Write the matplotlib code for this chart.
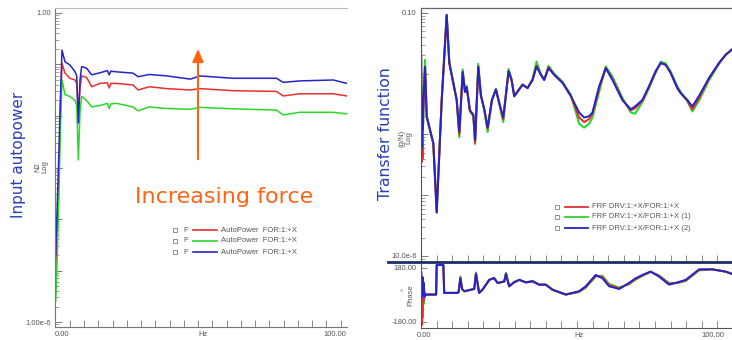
import numpy as np
import matplotlib
matplotlib.use('Agg')
import matplotlib.pyplot as plt
from matplotlib.ticker import FixedLocator, FixedFormatter, NullFormatter
from matplotlib.lines import Line2D
from matplotlib.patches import Rectangle, FancyArrowPatch

# ---------------- data: input autopower (left) ----------------
hz_ap = [-2.3, -1.8, -1.2, -0.6, 0.0, 1.1, 2.9, 4.8, 5.4, 6.0, 6.6, 7.2, 9.0, 10.9, 13.9,
         16.6, 17.3, 17.9, 20.0, 26.0, 27.9, 32.0, 38.4, 47.0, 50.5, 62.7, 78.6, 81.0,
         87.0, 99.4, 104.3]
ap_blue = [2e-5, 1.5e-4, 1.5e-3, 0.02, 0.19, 0.113, 0.098, 0.072, 0.06, 0.0073, 0.05, 0.091,
           0.085, 0.063, 0.069, 0.076, 0.063, 0.074, 0.072, 0.068, 0.058, 0.064, 0.060, 0.052,
           0.060, 0.054, 0.054, 0.045, 0.048, 0.050, 0.043]
ap_red = [8e-6, 6e-5, 6e-4, 0.012, 0.105, 0.068, 0.054, 0.050, 0.042, 0.010, 0.035, 0.060,
          0.056, 0.037, 0.043, 0.044, 0.035, 0.043, 0.043, 0.040, 0.032, 0.037, 0.034, 0.032,
          0.034, 0.031, 0.030, 0.0245, 0.027, 0.027, 0.0245]
ap_green = [2.5e-6, 1.5e-5, 2e-4, 5e-3, 0.05, 0.026, 0.024, 0.020, 0.016, 0.0014, 0.012, 0.024,
            0.020, 0.015, 0.016, 0.0176, 0.014, 0.0172, 0.0176, 0.015, 0.0126, 0.015, 0.014,
            0.0135, 0.0147, 0.0138, 0.013, 0.0105, 0.0118, 0.0118, 0.011]

# ---------------- data: transfer function magnitude (right, top) ----------------
hz_frf = [-1.0, -0.85, -0.7, -0.5, -0.3, 0.35, 0.94, 2.08, 3.22, 3.81, 4.40, 4.95, 6.13, 7.86,
          8.76, 10.15, 11.33, 12.23, 13.4, 14.2, 14.8, 15.9, 17.1, 17.7, 18.8, 19.72, 20.88,
          22.03, 23.53, 24.91, 26.07, 27.45, 29.30, 30.33, 31.26, 32.41, 34.14, 35.87, 37.60,
          38.99, 40.48, 41.64, 43.14, 45.10, 47.98, 50.87, 53.75, 55.48, 57.21, 58.36, 60.67,
          62.98, 65.28, 68.74, 71.63, 73.13, 75.66, 77.97, 80.28, 82.01, 83.74, 85.47, 87.77,
          88.93, 91.24, 92.97, 95.27, 98.73, 102.19, 104.5, 106.57]
frf_blue = [0.024, 6e-4, 4e-3, 1.2e-3, 3e-3, 0.013, 1.94e-3, 1.18e-3, 7.2e-4, 2.0e-4, 5.2e-5,
            2.0e-4, 3.7e-3, 0.093, 0.015, 7.0e-3, 3.7e-3, 1.1e-3, 0.0107, 5.0e-3, 6.0e-3,
            2.5e-3, 2.1e-3, 8.1e-4, 0.013, 4.3e-3, 2.6e-3, 1.3e-3, 3.7e-3, 5.5e-3, 3.3e-3,
            1.9e-3, 0.011, 7.9e-3, 4.3e-3, 5.1e-3, 6.6e-3, 5.8e-3, 7.9e-3, 0.0132, 9.6e-3,
            7.9e-3, 0.0124, 9.6e-3, 7.1e-3, 4.3e-3, 2.3e-3, 1.9e-3, 2.0e-3, 2.3e-3, 6.2e-3,
            0.0124, 7.9e-3, 3.7e-3, 2.6e-3, 2.9e-3, 3.7e-3, 6.2e-3, 0.011, 0.015, 0.014,
            0.0103, 5.8e-3, 4.8e-3, 3.7e-3, 2.9e-3, 4.3e-3, 8.5e-3, 0.015, 0.0205, 0.0247]
frf_red = [0.020, 3.5e-4, 2e-3, 4e-4, 2e-3, 0.013, 1.94e-3, 1.18e-3, 7.2e-4, 2.0e-4, 5.2e-5,
           2.0e-4, 3.7e-3, 0.093, 0.015, 7.0e-3, 3.7e-3, 1.0e-3, 0.0107, 5.0e-3, 6.0e-3,
           2.5e-3, 2.1e-3, 7.3e-4, 0.013, 4.3e-3, 2.6e-3, 1.25e-3, 3.7e-3, 5.5e-3, 3.3e-3,
           1.8e-3, 0.011, 7.9e-3, 4.3e-3, 5.1e-3, 6.6e-3, 5.8e-3, 7.9e-3, 0.0135, 9.6e-3,
           7.9e-3, 0.0127, 9.6e-3, 7.1e-3, 4.3e-3, 1.9e-3, 1.6e-3, 1.8e-3, 2.2e-3, 5.8e-3,
           0.0124, 8.2e-3, 3.7e-3, 2.5e-3, 2.7e-3, 3.6e-3, 6.2e-3, 0.011, 0.015, 0.014,
           0.0103, 5.8e-3, 4.8e-3, 3.6e-3, 2.6e-3, 4.0e-3, 8.3e-3, 0.015, 0.0205, 0.0247]
frf_green = [0.020, 3e-3, 8e-4, 6e-3, 1.5e-3, 0.0169, 2.1e-3, 1.2e-3, 7.0e-4, 1.9e-4, 5.5e-5,
             2.2e-4, 3.5e-3, 0.090, 0.016, 7.2e-3, 3.6e-3, 9.0e-4, 0.0118, 5.2e-3, 6.3e-3,
             2.4e-3, 2.0e-3, 7.0e-4, 0.0145, 4.6e-3, 2.5e-3, 1.1e-3, 3.6e-3, 5.7e-3, 3.2e-3,
             1.6e-3, 0.0120, 8.2e-3, 4.2e-3, 5.0e-3, 6.7e-3, 5.8e-3, 8.2e-3, 0.0158, 1.0e-2,
             8.0e-3, 0.0135, 1.0e-2, 7.4e-3, 4.5e-3, 1.5e-3, 1.3e-3, 1.5e-3, 1.9e-3, 5.0e-3,
             0.0132, 9.0e-3, 4.0e-3, 2.3e-3, 2.2e-3, 3.4e-3, 5.8e-3, 0.0105, 0.0158, 0.0148,
             0.0108, 6.2e-3, 5.0e-3, 3.5e-3, 2.4e-3, 3.6e-3, 7.8e-3, 0.0145, 0.0205, 0.0250]

# ---------------- data: transfer function phase (right, bottom) ----------------
hz_ph = [-0.9, -0.7, -0.5, -0.3, -0.1, 0.2, 0.7, 4.2, 4.4, 6.7, 7.0, 11.6, 12.0, 12.6, 13.2,
         14.0, 17.4, 18.0, 19.1, 20.3, 22.6, 24.3, 25.5, 27.8, 28.4, 29.5, 31.2, 33.0, 35.3,
         37.6, 39.9, 42.2, 44.5, 49.1, 53.7, 56.0, 59.5, 61.8, 64.1, 67.6, 71.0, 73.4, 75.7,
         78.5, 81.4, 84.9, 87.8, 90.7, 95.3, 99.9, 104.5, 106.6]
ph_blue = [150, -20, 120, 0, 80, -10, 3, 3, 200, 200, 14, 14, 20, 112, 40, 25, 40, 141, 14,
           36, 101, 112, 80, 90, 141, 58, 84, 101, 84, 91, 69, 69, 36, 3, 25, 58, 134, 112,
           58, 40, 80, 112, 134, 156, 123, 69, 84, 101, 171, 171, 156, 141]
ph_red = [30, -200, -120, 90, -40, 0, 3, 3, 200, 200, 14, 14, 20, 115, 38, 25, 40, 143, 14,
          36, 101, 112, 80, 90, 141, 58, 84, 101, 84, 91, 69, 69, 36, 3, 22, 52, 128, 120,
          66, 44, 76, 108, 130, 156, 127, 74, 82, 98, 168, 171, 156, 141]
ph_green = [-100, 60, -150, 30, -60, 20, 3, 3, 200, 200, 14, 14, 22, 122, 40, 25, 42, 150,
            14, 36, 101, 115, 80, 92, 148, 58, 88, 101, 84, 95, 69, 69, 34, 3, 20, 48, 124,
            128, 74, 50, 72, 104, 128, 154, 131, 80, 80, 94, 164, 171, 156, 141]

# ---------------- figure ----------------
W, H = 732, 340
fig = plt.figure(figsize=(W / 100, H / 100), dpi=100)
FS = 5.5
TXT = '#555555'
SMALL = dict(family=['Liberation Sans', 'DejaVu Sans'], fontsize=FS, color=TXT)
C_RED, C_GREEN, C_BLUE = '#e8302c', '#2bd62b', '#2424c8'


def ax_px(x0, y0, x1, y1):
    return fig.add_axes([x0 / W, 1 - y1 / H, (x1 - x0) / W, (y1 - y0) / H])


def fx(x):
    return x / W


def fy(y):
    return 1 - y / H


def style_log_y(ax, labels_at, lo, hi):
    ax.yaxis.set_major_locator(FixedLocator(list(labels_at.keys())))
    ax.yaxis.set_major_formatter(FixedFormatter(list(labels_at.values())))
    minors = [m * 10.0 ** e for e in range(lo, hi) for m in range(2, 10)]
    ax.yaxis.set_minor_locator(FixedLocator(minors))
    ax.yaxis.set_minor_formatter(NullFormatter())
    ax.tick_params(axis='y', which='major', direction='in', length=5, width=0.6,
                   color='#666666', pad=3, labelsize=FS, labelcolor=TXT)
    ax.tick_params(axis='y', which='minor', direction='in', length=3, width=0.5,
                   color='#777777')
    for lab in ax.get_yticklabels():
        lab.set_family(['Liberation Sans', 'DejaVu Sans'])


def style_x(ax, hz_mid, minor, labels=True):
    if labels:
        ax.xaxis.set_major_locator(FixedLocator([0, hz_mid, 100]))
        ax.xaxis.set_major_formatter(FixedFormatter(['0.00', 'Hz', '100.00']))
    else:
        ax.xaxis.set_major_locator(FixedLocator([]))
    ax.xaxis.set_minor_locator(FixedLocator(minor))
    ax.tick_params(axis='x', which='major', direction='in', length=0, pad=3,
                   labelsize=FS, labelcolor=TXT)
    ax.tick_params(axis='x', which='minor', direction='in', length=5, width=0.6,
                   color='#777777')
    for lab in ax.get_xticklabels():
        lab.set_family(['Liberation Sans', 'DejaVu Sans'])


# ---------------- left panel ----------------
axL = ax_px(55, 8, 347, 327)
axL.set_yscale('log')
axL.plot(hz_ap, ap_red, color=C_RED, lw=1.1)
axL.plot(hz_ap, ap_green, color=C_GREEN, lw=1.1)
axL.plot(hz_ap, ap_blue, color=C_BLUE, lw=1.1)
axL.set_xlim(-2.56, 104.4)
axL.set_ylim(10 ** -6.097, 10 ** 0.097)
style_log_y(axL, {1e-6: '1.00e-6', 1e-5: '', 1e-4: '', 1e-3: '', 1e-2: '', 1e-1: '', 1.0: '1.00'},
            -7, 0)
style_x(axL, 51.6, np.arange(2.9, 104, 5.22))
for s in ['left', 'bottom']:
    axL.spines[s].set_color('#777777')
    axL.spines[s].set_linewidth(0.8)
axL.spines['top'].set_color('#bbbbbb')
axL.spines['top'].set_linewidth(0.8)
axL.spines['right'].set_visible(False)

fig.text(fx(37.5), fy(167), 'N2', rotation=90, ha='center', va='center', **SMALL)
fig.text(fx(45), fy(167), 'Log', rotation=90, ha='center', va='center', **SMALL)

# left legend
for yy, col in zip([230, 241, 252], [C_RED, C_GREEN, C_BLUE]):
    fig.add_artist(Rectangle((fx(173), fy(yy + 2)), 4 / W, 4 / H, transform=fig.transFigure,
                             fill=False, edgecolor='#666666', lw=0.5))
    fig.text(fx(183), fy(yy), 'F', ha='left', va='center', **SMALL)
    fig.add_artist(Line2D([fx(193), fx(217)], [fy(yy), fy(yy)], color=col, lw=1.2,
                          transform=fig.transFigure))
    fig.text(fx(221), fy(yy), 'AutoPower  FOR:1:+X', ha='left', va='center', **SMALL)

# arrow + annotation
ORANGE = '#ff6414'
fig.add_artist(FancyArrowPatch((fx(198), fy(162)), (fx(198), fy(46)), transform=fig.transFigure,
                               arrowstyle='-|>,head_length=0.7,head_width=0.3',
                               mutation_scale=11, color=ORANGE, lw=1.5))
fig.text(fx(224), fy(197), 'Increasing force', ha='center', va='center', color=ORANGE,
         fontsize=16, family='DejaVu Sans')

fig.text(fx(19), fy(155), 'Input autopower', rotation=90, ha='center', va='center',
         color='#2a3fb8', fontsize=11, family='DejaVu Sans')
fig.text(fx(386), fy(134), 'Transfer function', rotation=90, ha='center', va='center',
         color='#2a3fb8', fontsize=11.3, family='DejaVu Sans')

# ---------------- right panel: magnitude ----------------
axR = ax_px(421, 8, 732, 262)
axR.set_yscale('log')
axR.plot(hz_frf, frf_green, color=C_GREEN, lw=1.5)
axR.plot(hz_frf, frf_red, color=C_RED, lw=1.5)
axR.plot(hz_frf, frf_blue, color=C_BLUE, lw=1.4)
axR.set_xlim(-1.04, 106.7)
axR.set_ylim(10 ** -5.099, 10 ** -0.918)
style_log_y(axR, {1e-5: '10.0e-6', 1e-4: '', 1e-3: '', 1e-2: '', 1e-1: '0.10'}, -6, -1)
style_x(axR, 53.8, np.arange(4.4, 106, 5.4), labels=False)
axR.spines['left'].set_color('#555555')
axR.spines['left'].set_linewidth(0.8)
axR.spines['top'].set_color('#666666')
axR.spines['top'].set_linewidth(0.9)
axR.spines['right'].set_visible(False)
axR.spines['bottom'].set_visible(False)

fig.text(fx(401.5), fy(138), '(g/N)', rotation=90, ha='center', va='center', **SMALL)
fig.text(fx(409), fy(138), 'Log', rotation=90, ha='center', va='center', **SMALL)

# right legend
rlabels = ['FRF DRV:1:+X/FOR:1:+X', 'FRF DRV:1:+X/FOR:1:+X (1)', 'FRF DRV:1:+X/FOR:1:+X (2)']
for yy, col, lab in zip([207, 217, 228], [C_RED, C_GREEN, C_BLUE], rlabels):
    fig.add_artist(Rectangle((fx(555), fy(yy + 2)), 4 / W, 4 / H, transform=fig.transFigure,
                             fill=False, edgecolor='#666666', lw=0.5))
    fig.add_artist(Line2D([fx(565), fx(588)], [fy(yy), fy(yy)], color=col, lw=1.3,
                          transform=fig.transFigure))
    fig.text(fx(592), fy(yy), lab, ha='left', va='center', **SMALL)

# ---------------- right panel: phase ----------------
axP = ax_px(421, 262, 732, 328)
axP.plot(hz_ph, ph_green, color=C_GREEN, lw=1.5)
axP.plot(hz_ph, ph_red, color=C_RED, lw=1.5)
axP.plot(hz_ph, ph_blue, color=C_BLUE, lw=1.4)
axP.set_xlim(-1.04, 106.7)
axP.set_ylim(-220, 220)
axP.yaxis.set_major_locator(FixedLocator([-180, 180]))
axP.yaxis.set_major_formatter(FixedFormatter(['-180.00', '180.00']))
axP.yaxis.set_minor_locator(FixedLocator([-90, 0, 90]))
axP.tick_params(axis='y', which='major', direction='in', length=4, width=0.6,
                color='#777777', pad=3, labelsize=FS, labelcolor=TXT)
axP.tick_params(axis='y', which='minor', direction='in', length=2.5, width=0.5,
                color='#888888')
for lab in axP.get_yticklabels():
    lab.set_family(['Liberation Sans', 'DejaVu Sans'])
style_x(axP, 53.8, np.arange(4.4, 106, 5.4))
for s in ['left', 'bottom']:
    axP.spines[s].set_color('#555555')
    axP.spines[s].set_linewidth(0.8)
axP.spines['top'].set_visible(False)
axP.spines['right'].set_visible(False)
fig.text(fx(411), fy(295), 'Phase', rotation=90, ha='center', va='center', **SMALL)
fig.text(fx(401), fy(294), '°', ha='center', va='center', **SMALL)

# thick separator between magnitude and phase
fig.add_artist(Line2D([fx(388), 1.0], [fy(262), fy(262)], color='#1c2f66', lw=2.0,
                      transform=fig.transFigure))

fig.savefig('out.png', dpi=100)
